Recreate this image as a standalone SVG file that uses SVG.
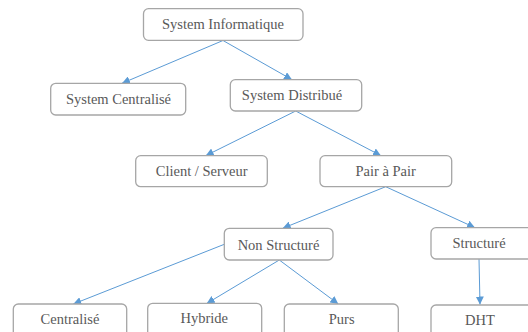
<svg xmlns="http://www.w3.org/2000/svg" width="528" height="332" viewBox="0 0 528 332">
  <defs>
    <marker id="arrow" viewBox="0 0 10 10" refX="10" refY="5" markerWidth="8" markerHeight="8" markerUnits="userSpaceOnUse" orient="auto">
      <path d="M0,0 L10,5 L0,10 Z" fill="#5b9bd5"/>
    </marker>
    <style>
      .box { fill: #ffffff; stroke: #a6a6a6; stroke-width: 1.3; }
      .lbl { font-size: 14.5px; fill: #595959; text-anchor: middle; }
      .edge { stroke: #5b9bd5; stroke-width: 1; fill: none; marker-end: url(#arrow); }
    </style>
  </defs>
  <rect width="528" height="332" fill="#ffffff"/>

  <!-- connectors -->
  <g id="connectors">
    <line class="edge" x1="223" y1="40.5" x2="122" y2="83.3"/>
    <line class="edge" x1="223" y1="40.5" x2="292" y2="79.7"/>
    <line class="edge" x1="295.7" y1="111" x2="205.7" y2="155.7"/>
    <line class="edge" x1="295.7" y1="111" x2="381" y2="155.7"/>
    <line class="edge" x1="385.7" y1="186.7" x2="282.7" y2="228.3"/>
    <line class="edge" x1="385.7" y1="186.7" x2="475" y2="227.7"/>
    <line class="edge" x1="224.3" y1="244.3" x2="73.3" y2="304"/>
    <line class="edge" x1="279.3" y1="260" x2="206.7" y2="303.5"/>
    <line class="edge" x1="279.3" y1="260" x2="338.3" y2="304"/>
    <line class="edge" x1="479" y1="259" x2="480" y2="304.5"/>
  </g>

  <!-- nodes -->
  <g font-family="'Liberation Serif', 'DejaVu Serif', 'Times New Roman', serif">
    <g id="n-system-informatique">
      <rect class="box" x="143.5" y="8.7" width="159.5" height="31.6" rx="5"/>
      <text class="lbl" x="223" y="28.5">System Informatique</text>
    </g>
    <g id="n-system-centralise">
      <rect class="box" x="50.7" y="83.3" width="135" height="31.7" rx="5"/>
      <text class="lbl" x="118.5" y="104">System Centralisé</text>
    </g>
    <g id="n-system-distribue">
      <rect class="box" x="230.3" y="79.7" width="131.4" height="31.3" rx="5"/>
      <text class="lbl" x="292" y="100">System Distribué</text>
    </g>
    <g id="n-client-serveur">
      <rect class="box" x="135.7" y="155.7" width="131.6" height="31" rx="5"/>
      <text class="lbl" x="201.7" y="176">Client / Serveur</text>
    </g>
    <g id="n-pair-a-pair">
      <rect class="box" x="320" y="155.7" width="131.7" height="31" rx="5"/>
      <text class="lbl" x="385.7" y="176">Pair à Pair</text>
    </g>
    <g id="n-non-structure">
      <rect class="box" x="224.3" y="228.3" width="108.7" height="31.7" rx="5"/>
      <text class="lbl" x="278.5" y="249.5">Non Structuré</text>
    </g>
    <g id="n-structure">
      <rect class="box" x="431" y="227.7" width="104" height="31.3" rx="5"/>
      <text class="lbl" x="479" y="247.5">Structuré</text>
    </g>
    <g id="n-centralise">
      <rect class="box" x="13.3" y="304" width="113.4" height="40" rx="5"/>
      <text class="lbl" x="70" y="323.5">Centralisé</text>
    </g>
    <g id="n-hybride">
      <rect class="box" x="147.7" y="303.3" width="114" height="40" rx="5"/>
      <text class="lbl" x="204.3" y="323">Hybride</text>
    </g>
    <g id="n-purs">
      <rect class="box" x="284.3" y="304" width="114" height="40" rx="5"/>
      <text class="lbl" x="341.7" y="324">Purs</text>
    </g>
    <g id="n-dht">
      <rect class="box" x="431" y="305" width="104" height="40" rx="5"/>
      <text class="lbl" x="480" y="324.5">DHT</text>
    </g>
  </g>
</svg>
